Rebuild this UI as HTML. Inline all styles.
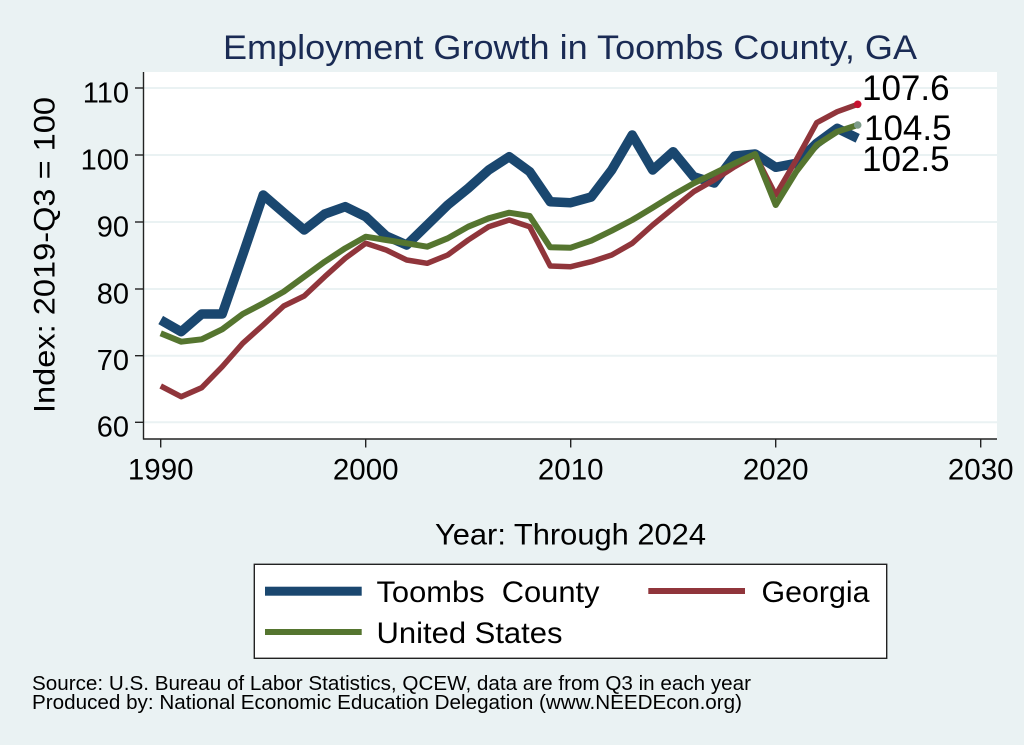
<!DOCTYPE html>
<html>
<head>
<meta charset="utf-8">
<style>
  html, body { margin: 0; padding: 0; background: #eaf2f3; }
  svg { display: block; }
  text { font-family: "Liberation Sans", Arial, sans-serif; }
</style>
</head>
<body>
<svg width="1024" height="745" viewBox="0 0 1024 745" xmlns="http://www.w3.org/2000/svg">
  <rect x="0" y="0" width="1024" height="745" fill="#eaf2f3"/>
  <!-- plot region -->
  <rect x="144" y="72" width="853" height="367" fill="#ffffff"/>
  <!-- gridlines -->
  <g stroke="#eaf2f3" stroke-width="2">
    <line x1="144" y1="88" x2="997" y2="88"/>
    <line x1="144" y1="155" x2="997" y2="155"/>
    <line x1="144" y1="222" x2="997" y2="222"/>
    <line x1="144" y1="289" x2="997" y2="289"/>
    <line x1="144" y1="355.7" x2="997" y2="355.7"/>
    <line x1="144" y1="422.3" x2="997" y2="422.3"/>
  </g>

  <!-- title -->
  <text x="570" y="59" text-anchor="middle" font-size="34" fill="#1a2b54" textLength="694" lengthAdjust="spacingAndGlyphs">Employment Growth in Toombs County, GA</text>

  <!-- series -->
  <g fill="none" stroke-linejoin="round" stroke-linecap="butt">
    <polyline stroke="#1a476f" stroke-width="9.5" points="160.7,320 181.2,331.7 201.7,314 222.2,314 242.7,255 263.2,195 283.7,212.7 304.2,230 324.7,214 345.2,206.7 365.7,216.7 386.2,236 406.7,245 427.2,225 447.7,205 468.2,188.3 488.7,170 509.2,156.7 529.7,171.7 550.2,201.7 570.7,202.7 591.2,197 611.7,170 632.2,135 652.7,170 673.2,151.7 693.7,176.7 714.2,183 734.7,156 755.2,154 775.7,167.3 796.2,163.3 816.7,143.3 837.2,128.3 857.7,138.3"/>
    <polyline stroke="#90353b" stroke-width="5.5" points="160.7,386 181.2,396.7 201.7,387.7 222.2,366.7 242.7,343.3 263.2,325 283.7,306 304.2,296 324.7,276.7 345.2,258.3 365.7,243.3 386.2,250 406.7,260 427.2,263.3 447.7,255 468.2,240 488.7,226.7 509.2,220 529.7,226.7 550.2,266 570.7,266.7 591.2,261.7 611.7,255 632.2,243.3 652.7,225 673.2,208.3 693.7,191.7 714.2,180 734.7,166.7 755.2,155 775.7,195 796.2,160 816.7,122.7 837.2,111.7 857.7,104.3"/>
    <polyline stroke="#55752f" stroke-width="6" points="160.7,333.3 181.2,341.7 201.7,339.3 222.2,329.3 242.7,314 263.2,303.3 283.7,291.7 304.2,276.7 324.7,261.7 345.2,248.3 365.7,236.7 386.2,240 406.7,243.3 427.2,246.7 447.7,238.3 468.2,226.7 488.7,218.3 509.2,212.7 529.7,216 550.2,247.3 570.7,247.7 591.2,240.7 611.7,230.7 632.2,220 652.7,207.7 673.2,195 693.7,183.3 714.2,173.3 734.7,163.3 755.2,154 775.7,205 796.2,171.7 816.7,145 837.2,131.7 857.7,125"/>
  </g>
  <circle cx="857.7" cy="104.3" r="3.8" fill="#c8102e"/>
  <circle cx="857.7" cy="125" r="3.8" fill="#7d9c89"/>

  <!-- end labels -->
  <g font-size="35" fill="#000">
    <text x="862" y="100">107.6</text>
    <text x="864" y="140">104.5</text>
    <text x="862" y="171">102.5</text>
  </g>

  <!-- axes -->
  <g stroke="#222" stroke-width="1.4">
    <line x1="143.5" y1="72" x2="143.5" y2="439.5"/>
    <line x1="143" y1="439" x2="997" y2="439"/>
    <!-- y ticks -->
    <line x1="135" y1="88" x2="143.5" y2="88"/>
    <line x1="135" y1="155" x2="143.5" y2="155"/>
    <line x1="135" y1="222" x2="143.5" y2="222"/>
    <line x1="135" y1="289" x2="143.5" y2="289"/>
    <line x1="135" y1="355.7" x2="143.5" y2="355.7"/>
    <line x1="135" y1="422.3" x2="143.5" y2="422.3"/>
    <!-- x ticks -->
    <line x1="160.7" y1="439" x2="160.7" y2="447.5"/>
    <line x1="365.7" y1="439" x2="365.7" y2="447.5"/>
    <line x1="570.7" y1="439" x2="570.7" y2="447.5"/>
    <line x1="775.7" y1="439" x2="775.7" y2="447.5"/>
    <line x1="980.7" y1="439" x2="980.7" y2="447.5"/>
  </g>

  <!-- y tick labels -->
  <g font-size="29" fill="#000" text-anchor="end">
    <text x="129" y="102.5">110</text>
    <text x="129" y="169.3">100</text>
    <text x="129" y="236.3">90</text>
    <text x="129" y="303.3">80</text>
    <text x="129" y="370">70</text>
    <text x="129" y="436.6">60</text>
  </g>
  <!-- x tick labels -->
  <g font-size="29.5" fill="#000" text-anchor="middle">
    <text x="160.7" y="479.3">1990</text>
    <text x="365.7" y="479.3">2000</text>
    <text x="570.7" y="479.3">2010</text>
    <text x="775.7" y="479.3">2020</text>
    <text x="980.7" y="479.3">2030</text>
  </g>

  <!-- axis titles -->
  <text x="0" y="0" font-size="30" fill="#000" text-anchor="middle" transform="translate(54.5,255) rotate(-90)" textLength="316" lengthAdjust="spacingAndGlyphs">Index: 2019-Q3 = 100</text>
  <text x="570.5" y="544.3" font-size="29.8" fill="#000" text-anchor="middle" textLength="271" lengthAdjust="spacingAndGlyphs">Year: Through 2024</text>

  <!-- legend -->
  <rect x="254.3" y="564.3" width="632.4" height="94" fill="#ffffff" stroke="#222" stroke-width="1.4"/>
  <rect x="265" y="586.7" width="96.7" height="9" fill="#1a476f"/>
  <rect x="648.3" y="588" width="96.7" height="6" fill="#90353b"/>
  <rect x="265" y="629" width="96.7" height="6" fill="#55752f"/>
  <g font-size="30" fill="#000">
    <text x="376.5" y="602" xml:space="preserve" textLength="223" lengthAdjust="spacingAndGlyphs">Toombs  County</text>
    <text x="761.5" y="602" textLength="108" lengthAdjust="spacingAndGlyphs">Georgia</text>
    <text x="376.5" y="643" textLength="186" lengthAdjust="spacingAndGlyphs">United States</text>
  </g>

  <!-- source notes -->
  <g font-size="20.5" fill="#000">
    <text x="32" y="690" textLength="719" lengthAdjust="spacingAndGlyphs">Source: U.S. Bureau of Labor Statistics, QCEW, data are from Q3 in each year</text>
    <text x="32" y="709" textLength="710" lengthAdjust="spacingAndGlyphs">Produced by: National Economic Education Delegation (www.NEEDEcon.org)</text>
  </g>
</svg>
</body>
</html>
